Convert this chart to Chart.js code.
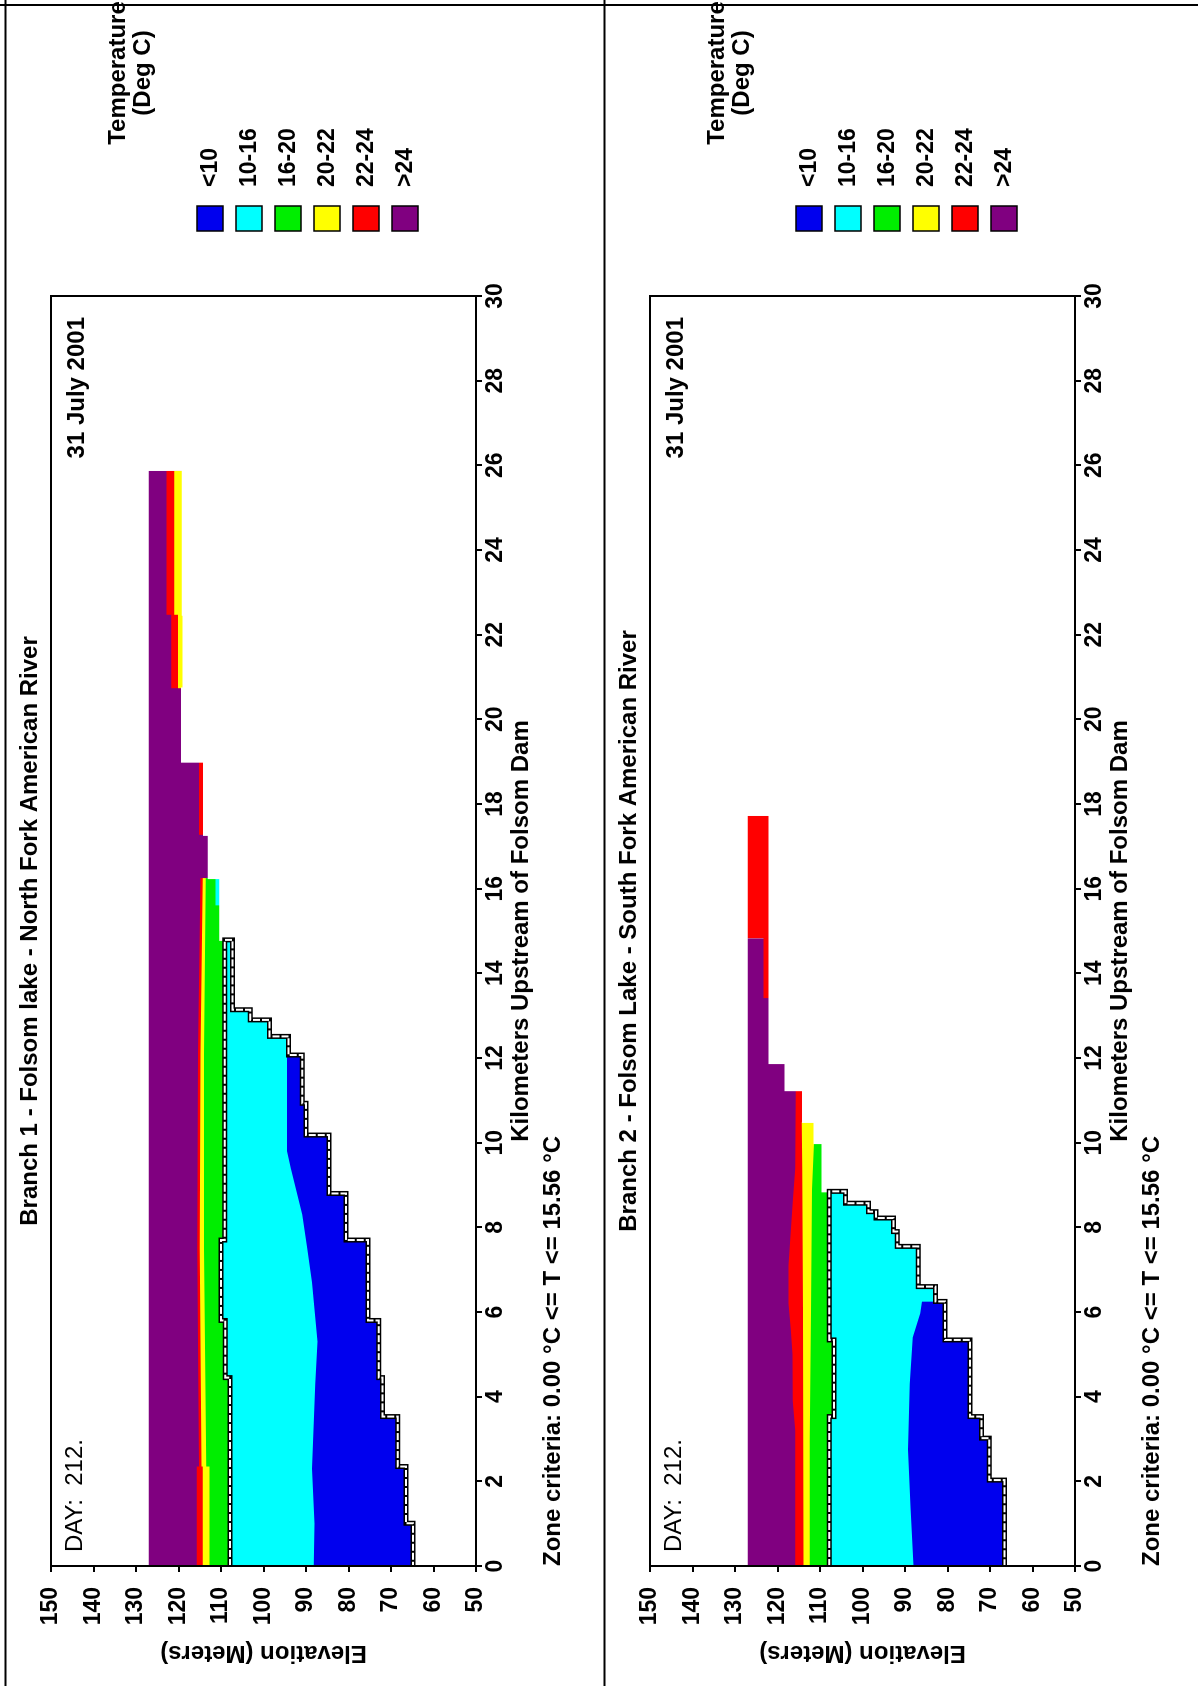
<!DOCTYPE html>
<html lang="en">
<head>
  <meta charset="UTF-8">
  <title>Folsom Lake - temperature zones</title>
  <script src="https://cdn.jsdelivr.net/npm/chart.js"></script>
  <style>
    html, body { margin: 0; padding: 0; background: #fff; }
    #page { position: relative; width: 1199px; height: 1686px; overflow: hidden; background: #fff; }
    .panel { position: absolute; top: 0; width: 600px; height: 1686px; overflow: hidden; }
    /* each chart is drawn landscape, then turned a quarter turn to the left */
    .panel canvas { position: absolute; left: 0; top: 0; transform-origin: 0 0; transform: translateY(1686px) rotate(-90deg); }
  </style>
</head>
<body>
  <div id="page">
    <div class="panel" style="left:0"><canvas id="branch1" width="1686" height="599"></canvas></div>
    <div class="panel" style="left:599px"><canvas id="branch2" width="1686" height="599"></canvas></div>
  </div>
  <script>
    // ticks
    const kmTicks = [0, 2, 4, 6, 8, 10, 12, 14, 16, 18, 20, 22, 24, 26, 28, 30];
    const elevTicks = [50, 60, 70, 80, 90, 100, 110, 120, 130, 140, 150];

    // temperature classes (legend)
    const zoneLabels = ['<10', '10-16', '16-20', '20-22', '22-24', '>24'];
    const zoneColors = ['#0000ee', '#00ffff', '#00ee00', '#ffff00', '#ff0000', '#800080'];

    // ---- Branch 1 (North Fork) ----
    // bed: cell boundaries (km) and bottom elevation of each cell (m)
    const b1BedKm = [0, 1.01, 2.35, 3.53, 4.45, 5.8, 7.7, 8.8, 10.18, 10.93, 12.07, 12.51, 12.9, 13.14, 14.79, 16.25, 17.27, 19.0, 20.73, 22.47, 25.87];
    const b1BedElev = [64.8, 66.5, 68.4, 72.0, 72.9, 75.4, 80.6, 84.6, 90.0, 90.9, 94.1, 98.6, 103.1, 107.3, 110.2, 112.9, 114.0, 119.2, 118.8, 119.0];
    // top of each colour band, [km, elevation]; null = band absent
    const b1Surface = [[0, 127], [25.87, 127]];
    const b1Red = [[0, 115.7], [2.35, 115.7], [2.35, 115.2], [7.5, 115.6], [12.1, 115.4], [16.25, 114.8], [16.25, null],
                   [17.27, 115.2], [19.0, 115.2], [19.0, null], [20.73, 121.7], [22.47, 121.7], [22.47, 122.8], [25.87, 122.8]];
    const b1Yellow = [[0, 114.3], [2.35, 114.3], [2.35, 114.6], [7.5, 115.0], [12.1, 114.8], [16.25, 114.3], [16.25, null],
                      [20.73, 120.1], [22.47, 120.1], [22.47, 121.0], [25.87, 121.0]];
    const b1Green = [[0, 112.7], [2.35, 112.7], [2.35, 113.5], [7.5, 114.0], [12.1, 114.0], [16.25, 113.6]];
    const b1ZoneTop = [[0, 107.9], [4.45, 107.9], [4.45, 109.0], [5.8, 109.0], [5.8, 110.0], [7.7, 110.0], [7.7, 109.1], [14.79, 109.1]];
    const b1CyanSliver = [[15.6, 111.3], [16.25, 111.3]];
    const b1Blue = [[0, 88.2], [1, 88.0], [2.3, 88.6], [4.3, 87.8], [5.3, 87.3], [6.7, 88.6], [7.5, 89.7], [8.3, 90.9], [9.4, 93.6], [9.8, 94.5], [12.07, 94.5]];
    const b1ZoneEnd = 14.79;

    // ---- Branch 2 (South Fork) ----
    const b2BedKm = [0, 2.03, 3.02, 3.53, 5.34, 6.25, 6.6, 7.55, 7.9, 8.22, 8.37, 8.57, 8.85, 9.99, 10.49, 11.24, 11.88, 17.72];
    const b2BedElev = [66.6, 70.2, 72.0, 74.7, 80.6, 82.8, 86.9, 91.8, 92.7, 96.8, 98.6, 104.0, 109.4, 111.3, 114.0, 118.1, 121.9];
    const b2Surface = [[0, 127], [14.83, 127]];
    const b2Red = [[0, 115.8], [3.2, 115.8], [3.9, 116.4], [5.0, 116.5], [5.6, 116.9], [6.2, 117.4], [7.1, 117.4], [8.6, 116.4], [9.4, 115.8],
                   [11.24, 115.7], [11.24, null], [13.41, 123.3], [14.83, 123.3], [14.83, 127], [17.72, 127]];
    const b2Yellow = [[0, 113.9], [6, 114.0], [9.4, 114.2], [10.49, 114.3]];
    const b2Green = [[0, 112.4], [3, 112.4], [6, 112.1], [8.9, 111.9], [9.99, 111.4]];
    const b2ZoneTop = [[0, 107.8], [3.53, 107.8], [3.53, 106.7], [5.34, 106.7], [5.34, 107.8], [8.85, 107.8]];
    const b2Blue = [[0, 88.0], [1.4, 88.7], [2.75, 89.3], [4.3, 88.9], [5.4, 88.2], [5.97, 86.4], [6.25, 86.0]];
    const b2ZoneEnd = 8.85;

    const FONT = '"Liberation Sans", Arial, sans-serif';

    const xy = pairs => pairs.map(p => ({ x: p[0], y: p[1] }));

    // step outline of the bed (corner points of each cell)
    function cells(kms, elevs, upTo) {
      const pts = [];
      for (let i = 0; i < elevs.length; i++) {
        if (kms[i] >= upTo) break;
        pts.push({ x: kms[i], y: elevs[i] });
        pts.push({ x: Math.min(kms[i + 1], upTo), y: elevs[i] });
      }
      return pts;
    }

    function band(data, color, order) {
      return { data: data, backgroundColor: color, borderColor: 'rgba(0,0,0,0)', borderWidth: 1, fill: 'start', order: order, pointRadius: 0 };
    }

    // free texts, legend, frame and page border
    const panelText = {
      id: 'panelText',
      afterDraw(chart, args, opts) {
        const ctx = chart.ctx;
        const a = chart.chartArea;
        ctx.save();
        ctx.strokeStyle = '#000';
        ctx.lineWidth = 2;
        ctx.strokeRect(a.left, a.top, a.right - a.left, a.bottom - a.top);
        ctx.beginPath();
        ctx.moveTo(0, 5.5); ctx.lineTo(chart.width, 5.5);
        ctx.moveTo(chart.width - 5, 0); ctx.lineTo(chart.width - 5, chart.height);
        ctx.stroke();

        ctx.fillStyle = '#000';
        ctx.textBaseline = 'middle';
        ctx.font = 'bold 24px ' + FONT;
        ctx.textAlign = 'center';
        ctx.fillText(opts.title, (a.left + a.right) / 2, 30);

        ctx.textAlign = 'right';
        ctx.fillText(opts.date, a.right - 21, a.top + 26);
        ctx.textAlign = 'left';
        ctx.fillText(opts.criteria, a.left, 553);
        ctx.font = '24px ' + FONT;
        ctx.fillText(opts.day, a.left + 14, a.top + 24);

        // legend
        ctx.font = 'bold 24px ' + FONT;
        ctx.textAlign = 'center';
        ctx.fillText('Temperature', 1613, 118);
        ctx.fillText('(Deg C)', 1613, 143);
        ctx.font = 'bold 23px ' + FONT;
        ctx.textAlign = 'left';
        ctx.lineWidth = 1.5;
        zoneLabels.forEach((lab, i) => {
          const vc = 210 + i * 39;
          ctx.fillStyle = zoneColors[i];
          ctx.fillRect(1455, vc - 13, 25, 26);
          ctx.strokeRect(1455, vc - 13, 25, 26);
          ctx.fillStyle = '#000';
          ctx.fillText(lab, 1499, vc + 1);
        });
        ctx.restore();
      }
    };

    function makeChart(id, b) {
      const outline = xy(b.zoneTop).concat(cells(b.bedKm, b.bedElev, b.zoneEnd).reverse());
      // bed line, closed down to the axis at the upstream end so its white edge hides the seam there
      const bed = cells(b.bedKm, b.bedElev, Infinity);
      bed.push({ x: b.bedKm[b.bedKm.length - 1], y: elevTicks[0] });
      const datasets = [
        band(xy(b.surface), zoneColors[5], 20),
        band(xy(b.red), zoneColors[4], 19),
        band(xy(b.yellow), zoneColors[3], 18),
        band(xy(b.green), zoneColors[2], 17),
        band(xy(b.zoneTop), zoneColors[1], 16),
        band(xy(b.cyanExtra), zoneColors[1], 16),
        band(xy(b.blue), zoneColors[0], 15),
        { data: bed, backgroundColor: '#ffffff', borderColor: '#ffffff', borderWidth: 2, fill: 'start', order: 14, pointRadius: 0 },
        { data: outline, borderColor: '#000', borderWidth: 5, fill: false, order: 2, pointRadius: 0 },
        { data: outline, borderColor: '#fff', borderWidth: 2, borderDash: [7, 2], fill: false, order: 1, pointRadius: 0 }
      ];

      new Chart(document.getElementById(id), {
        type: 'line',
        data: { datasets: datasets },
        options: {
          responsive: false,
          animation: false,
          events: [],
          layout: { padding: { top: 51, right: 296, left: 0, bottom: 0 } },
          elements: { line: { tension: 0 } },
          plugins: {
            legend: { display: false },
            title: { display: false },
            tooltip: { enabled: false },
            panelText: { title: b.title, day: 'DAY:  212.', date: '31 July 2001', criteria: 'Zone criteria: 0.00 °C <= T <= 15.56 °C' }
          },
          scales: {
            x: {
              type: 'linear', min: 0, max: 30,
              afterBuildTicks: s => { s.ticks = kmTicks.map(v => ({ value: v })); },
              afterFit: s => { s.height = 123; },
              ticks: { color: '#000', padding: 0, maxRotation: 0, autoSkip: false, font: { family: FONT, size: 23, weight: 'bold' } },
              grid: { drawOnChartArea: false, color: '#000', lineWidth: 2, tickLength: 6 },
              border: { color: '#000', width: 2 },
              title: { display: true, text: 'Kilometers Upstream of Folsom Dam', color: '#000',
                       font: { family: FONT, size: 24, weight: 'bold' }, padding: { top: 0, bottom: 63 } }
            },
            y: {
              type: 'linear', min: 50, max: 150,
              afterBuildTicks: s => { s.ticks = elevTicks.map(v => ({ value: v })); },
              afterFit: s => { s.width = 120; },
              ticks: { color: '#000', padding: 15, autoSkip: false, font: { family: FONT, size: 23, weight: 'bold' } },
              grid: { drawOnChartArea: false, color: '#000', lineWidth: 2, tickLength: 6 },
              border: { color: '#000', width: 2 },
              title: { display: true, text: 'Elevation (Meters)', color: '#000',
                       font: { family: FONT, size: 24, weight: 'bold' }, padding: { top: 19, bottom: 0 } }
            }
          }
        },
        plugins: [panelText]
      });
    }

    makeChart('branch1', {
      title: 'Branch 1 - Folsom lake - North Fork American River',
      bedKm: b1BedKm, bedElev: b1BedElev, surface: b1Surface, red: b1Red, yellow: b1Yellow, green: b1Green,
      zoneTop: b1ZoneTop, cyanExtra: b1CyanSliver, blue: b1Blue, zoneEnd: b1ZoneEnd
    });
    makeChart('branch2', {
      title: 'Branch 2 - Folsom Lake - South Fork American River',
      bedKm: b2BedKm, bedElev: b2BedElev, surface: b2Surface, red: b2Red, yellow: b2Yellow, green: b2Green,
      zoneTop: b2ZoneTop, cyanExtra: [], blue: b2Blue, zoneEnd: b2ZoneEnd
    });
  </script>
</body>
</html>
